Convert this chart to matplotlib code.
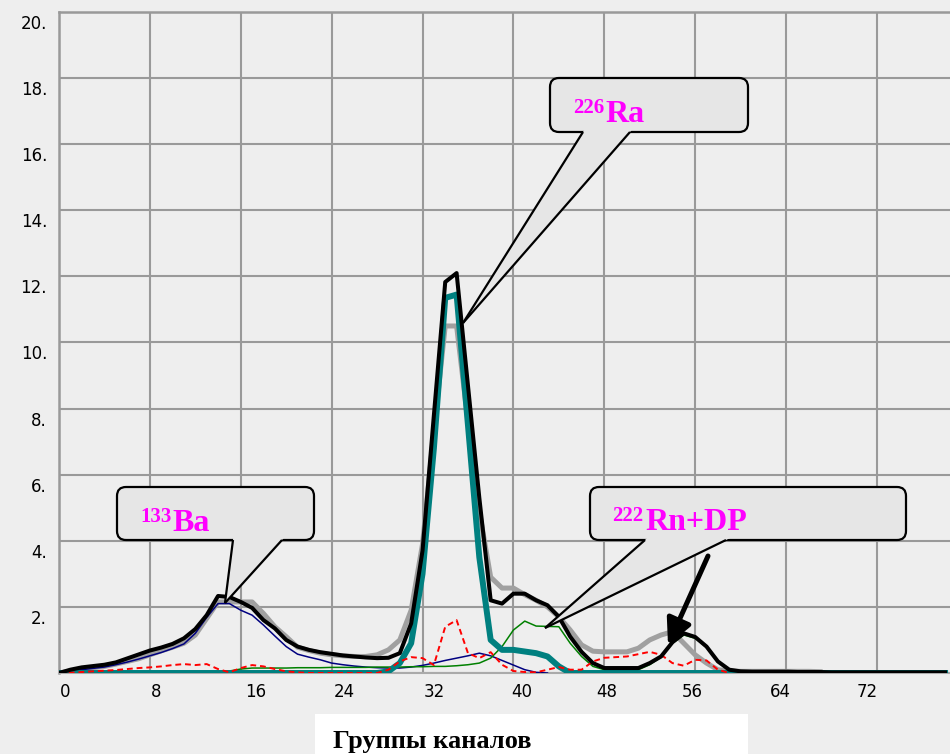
import numpy as np
import matplotlib
matplotlib.use("Agg")
import matplotlib.pyplot as plt
from matplotlib.patches import FancyBboxPatch, Polygon, Rectangle
from matplotlib.transforms import ScaledTranslation

# spectra per channel group
channels = np.arange(79)

total = [0.00, 0.10, 0.17, 0.21, 0.25, 0.32, 0.44, 0.56, 0.68, 0.77,
         0.88, 1.05, 1.33, 1.75, 2.33, 2.30, 2.15, 1.97, 1.60, 1.35,
         1.00, 0.80, 0.70, 0.63, 0.58, 0.53, 0.50, 0.47, 0.45, 0.46,
         0.60, 1.50, 3.70, 7.80, 11.83, 12.10, 8.70, 5.30, 2.20, 2.10,
         2.40, 2.40, 2.20, 2.05, 1.70, 1.10, 0.64, 0.30, 0.15, 0.15,
         0.15, 0.15, 0.30, 0.50, 0.93, 1.20, 1.09, 0.80, 0.35, 0.10,
         0.05, 0.04, 0.04, 0.04, 0.04, 0.03, 0.03, 0.03, 0.02, 0.02,
         0.02, 0.02, 0.02, 0.02, 0.02, 0.02, 0.02, 0.02, 0.02]

measured = [0.00, 0.06, 0.12, 0.16, 0.20, 0.27, 0.35, 0.43, 0.55, 0.67,
            0.78, 0.90, 1.15, 1.65, 2.15, 2.15, 2.15, 2.15, 1.80, 1.40,
            1.10, 0.78, 0.68, 0.60, 0.55, 0.52, 0.50, 0.50, 0.55, 0.70,
            1.00, 1.90, 3.90, 7.30, 10.50, 10.50, 7.60, 4.90, 2.90, 2.57,
            2.57, 2.37, 2.20, 2.00, 1.70, 1.30, 0.85, 0.66, 0.64, 0.64,
            0.64, 0.75, 1.00, 1.15, 1.25, 0.90, 0.55, 0.30, 0.10, 0.06,
            0.05, 0.05, 0.05, 0.05, 0.05, 0.05, 0.05, 0.04]

ra226 = [0.0] * 29 + [
    0.05, 0.30, 0.90, 3.00, 6.80, 11.35, 11.45, 7.50, 3.50, 1.00,
    0.70, 0.70, 0.65, 0.60, 0.50, 0.20, 0.00] + [0.0] * 33

ba133 = [0.00, 0.06, 0.10, 0.14, 0.18, 0.25, 0.33, 0.42, 0.52, 0.62,
         0.74, 0.88, 1.20, 1.68, 2.10, 2.10, 1.90, 1.75, 1.45, 1.12,
         0.80, 0.57, 0.48, 0.40, 0.30, 0.25, 0.21, 0.18, 0.16, 0.15,
         0.15, 0.18, 0.23, 0.30, 0.38, 0.45, 0.52, 0.60, 0.52, 0.38,
         0.24, 0.10, 0.02, 0.00]

rn222 = [0.0] * 15 + [
    0.06, 0.12, 0.15, 0.15, 0.15, 0.15, 0.16, 0.16, 0.16, 0.17,
    0.17, 0.17, 0.17, 0.18, 0.18, 0.18, 0.19, 0.19, 0.20, 0.20,
    0.22, 0.25, 0.30, 0.45, 0.80, 1.30, 1.57, 1.42, 1.41, 1.40,
    0.90, 0.50, 0.20, 0.10, 0.10, 0.10, 0.10, 0.25, 0.48, 0.90,
    1.15, 1.05, 0.78, 0.33, 0.08, 0.00]

residual = [0.00, 0.01, 0.03, 0.05, 0.07, 0.09, 0.12, 0.15, 0.17, 0.20,
            0.24, 0.27, 0.24, 0.27, 0.12, 0.02, 0.15, 0.24, 0.20, 0.12,
            0.05, 0.02, 0.00, 0.00, 0.00, 0.00, 0.00, 0.00, 0.00, 0.10,
            0.35, 0.48, 0.45, 0.24, 1.40, 1.60, 0.60, 0.45, 0.63, 0.25,
            0.06, 0.03, 0.02, 0.10, 0.18, 0.10, 0.10, 0.35, 0.46, 0.48,
            0.50, 0.57, 0.64, 0.55, 0.30, 0.22, 0.40, 0.38, 0.10, 0.00]

x_ticks = list(range(0, 73, 8))
y_ticks = list(range(0, 21, 2))
y_labels = [""] + [f"{v}." for v in y_ticks[1:]]

BG = "#eeeeee"
BOX_FC = "#e6e6e6"
MAGENTA = "#ff00ff"
SERIF = "Liberation Serif"

fig = plt.figure(figsize=(9.5, 7.54), dpi=100, facecolor=BG)
ax = fig.add_axes([59 / 950, 81 / 754, 891 / 950, 661 / 754])
ax.set_facecolor(BG)

ax.plot(channels[:len(measured)], measured, color="#a0a0a0", lw=3.6, zorder=2)
ax.plot(channels[:len(ba133)], ba133, color="#000080", lw=1.1, zorder=3)
ax.plot(channels[:len(rn222)], rn222, color="#008000", lw=1.1, zorder=3)
ax.plot(channels, ra226, color="#008080", lw=4.3, zorder=4)
ax.plot(channels[:len(residual)], residual, color="#ff0000", lw=1.4, ls=(0, (3, 2)), zorder=5)
ax.plot(channels, total, color="black", lw=2.9, zorder=6)

ax.set_xlim(0, 891 / 11.36)
ax.set_ylim(0, 20)
ax.set_xticks(x_ticks)
ax.set_xticklabels([str(v) for v in x_ticks])
ax.set_yticks(y_ticks)
ax.set_yticklabels(y_labels)
ax.tick_params(length=0, labelsize=12, labelcolor="black")
ax.tick_params(axis="y", pad=8.6)
ax.tick_params(axis="x", pad=7)
ax.grid(True, color="#999999", lw=1.5)
ax.set_axisbelow(True)
for side in ("left", "top"):
    ax.spines[side].set_color("#999999")
    ax.spines[side].set_linewidth(1.8)
ax.spines["bottom"].set_color("#aaaaaa")
ax.spines["bottom"].set_linewidth(1.5)
ax.spines["right"].set_visible(False)

# nudge tick labels the way the original layout places them
x_shift = [6, 6, 15, 13, 12, 8, 2, -3, -6, -10]
for lab, dx in zip(ax.get_xticklabels(), x_shift):
    lab.set_transform(lab.get_transform() + ScaledTranslation(dx / 100, 0, fig.dpi_scale_trans))
for lab in ax.get_yticklabels():
    lab.set_transform(lab.get_transform() + ScaledTranslation(0, -10 / 100, fig.dpi_scale_trans))

# overlay in pixel units for callouts and the axis caption
ov = fig.add_axes([0, 0, 1, 1])
ov.set_xlim(0, 950)
ov.set_ylim(754, 0)
ov.axis("off")


def callout(box, base, tip):
    x0, y0, x1, y1 = box
    ov.add_patch(FancyBboxPatch((x0, y0), x1 - x0, y1 - y0,
                                boxstyle="round,pad=0,rounding_size=9",
                                fc=BOX_FC, ec="black", lw=1.6, zorder=3))
    tx, ty = tip
    f = (ty - y1 + 4) / (ty - y1)
    pts = [(tx + (bx - tx) * f, y1 - 4) for bx in base]
    ov.add_patch(Polygon([pts[0], tip, pts[1]], closed=True, fc=BOX_FC, ec="none", zorder=4))
    for bx in base:
        ov.plot([bx, tx], [y1, ty], color="black", lw=1.6, zorder=5, solid_capstyle="butt")


def isotope(x, y, mass, name, sup_w):
    ov.text(x, y - 9, mass, ha="left", va="baseline", color=MAGENTA,
            family=SERIF, fontweight="bold", fontsize=15, zorder=6)
    ov.text(x + sup_w, y, name, ha="left", va="baseline", color=MAGENTA,
            family=SERIF, fontweight="bold", fontsize=23, zorder=6)


callout((117, 487, 314, 540), (233, 282), (225, 603))
isotope(140, 531, "133", "Ba", 32)

callout((550, 78, 748, 132), (583, 630), (463, 323))
isotope(573, 122, "226", "Ra", 32)

callout((590, 487, 906, 540), (645, 726), (545, 628))
isotope(612, 530, "222", "Rn+DP", 33)

ov.annotate("", xy=(668, 645), xytext=(708, 556),
            arrowprops=dict(arrowstyle="-|>,head_length=0.7,head_width=0.35",
                            mutation_scale=22, lw=3.6, color="black",
                            shrinkA=0, shrinkB=0), zorder=6)

ov.add_patch(Rectangle((315, 714), 433, 45, fc="white", ec="none", zorder=3))
ov.text(333, 748, "Группы каналов", ha="left", va="baseline", family=SERIF,
        fontweight="bold", fontsize=19, zorder=4)

fig.savefig("out.png", dpi=100, facecolor=fig.get_facecolor())
